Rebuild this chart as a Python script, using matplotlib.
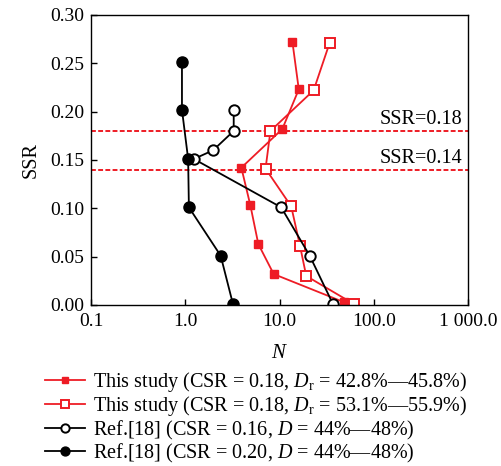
import numpy as np
import matplotlib
matplotlib.use('Agg')
import matplotlib.pyplot as plt

plt.rcParams['font.family'] = ['Liberation Serif', 'DejaVu Serif']
plt.rcParams['mathtext.fontset'] = 'custom'
plt.rcParams['mathtext.rm'] = 'Liberation Serif'
plt.rcParams['mathtext.it'] = 'Liberation Serif:italic'

RED = '#ee1c25'

# this study, Dr = 42.8%-45.8%
n_loose = [13.7, 16.0, 10.7, 3.93, 4.9, 5.95, 8.66, 48.0]
ssr_loose = [0.272, 0.223, 0.182, 0.142, 0.103, 0.063, 0.032, 0.003]

# this study, Dr = 53.1%-55.9%
n_dense = [34.0, 23.0, 8.0, 7.1, 13.3, 16.5, 19.2, 61.6]
ssr_dense = [0.271, 0.222, 0.180, 0.141, 0.102, 0.061, 0.030, 0.001]

# Ref.[18], CSR = 0.16
n_ref16 = [3.26, 3.26, 1.97, 1.23, 10.4, 20.9, 36.9]
ssr_ref16 = [0.202, 0.180, 0.160, 0.151, 0.101, 0.051, 0.001]

# Ref.[18], CSR = 0.20
n_ref20 = [0.92, 0.92, 1.07, 1.09, 2.37, 3.2]
ssr_ref20 = [0.251, 0.202, 0.151, 0.101, 0.051, 0.001]

ssr_lines = [0.18, 0.14]
xticks = [0.1, 1, 10, 100, 1000]
xtick_labels = ['0.1', '1.0', '10.0', '100.0', '1 000.0']
yticks = [0.0, 0.05, 0.10, 0.15, 0.20, 0.25, 0.30]

labels = [
    r'This study (CSR = 0.18, $D_\mathrm{r}$ = 42.8%—45.8%)',
    r'This study (CSR = 0.18, $D_\mathrm{r}$ = 53.1%—55.9%)',
    r'Ref.[18] (CSR = 0.16, $D$ = 44%—48%)',
    r'Ref.[18] (CSR = 0.20, $D$ = 44%—48%)',
]

fig = plt.figure(figsize=(5.01, 4.66), dpi=100)
ax = fig.add_axes([0.182, 0.3455, 0.752, 0.6225])

lw = 1.3
h1, = ax.plot(n_loose, ssr_loose, color=RED, lw=lw, marker='s', ms=5.5,
              mfc=RED, mec=RED, label=labels[0])
h2, = ax.plot(n_dense, ssr_dense, color=RED, lw=lw, marker='s', ms=7.5,
              mfc='white', mec=RED, mew=1.4, label=labels[1])
h3, = ax.plot(n_ref16, ssr_ref16, color='black', lw=lw, marker='o', ms=7.5,
              mfc='white', mec='black', mew=1.4, label=labels[2])
h4, = ax.plot(n_ref20, ssr_ref20, color='black', lw=lw, marker='o', ms=8,
              mfc='black', mec='black', label=labels[3])

for s in ssr_lines:
    ax.axhline(s, color=RED, lw=1.4, ls=(0, (2.5, 1.2)), zorder=1)
    ax.text(0.985, s + 0.002, 'SSR=%.2f' % s, transform=ax.get_yaxis_transform(),
            ha='right', va='bottom', fontsize=14.5)

ax.set_xscale('log')
ax.set_xlim(0.1, 1000)
ax.set_ylim(0, 0.30)
ax.set_xticks(xticks)
ax.set_xticklabels(xtick_labels)
ax.minorticks_off()
ax.set_yticks(yticks)
ax.set_yticklabels(['%.2f' % v for v in yticks])
ax.tick_params(direction='in', labelsize=14, length=4, width=1)
ax.tick_params(axis='x', pad=6)
ax.tick_params(axis='y', pad=5)
ax.set_xlabel('$N$', fontsize=15, labelpad=10)
ax.set_ylabel('SSR', fontsize=14.5, labelpad=7)
for sp in ax.spines.values():
    sp.set_linewidth(1.0)

fig.legend(handles=[h1, h2, h3, h4], loc='upper left',
           bbox_to_anchor=(0.09, 0.205), bbox_transform=fig.transFigure,
           frameon=False, fontsize=14.5, handlelength=2.0, handletextpad=0.4,
           labelspacing=0.0, borderpad=0, borderaxespad=0, markerscale=0.8)

fig.savefig('out.png', dpi=100)
